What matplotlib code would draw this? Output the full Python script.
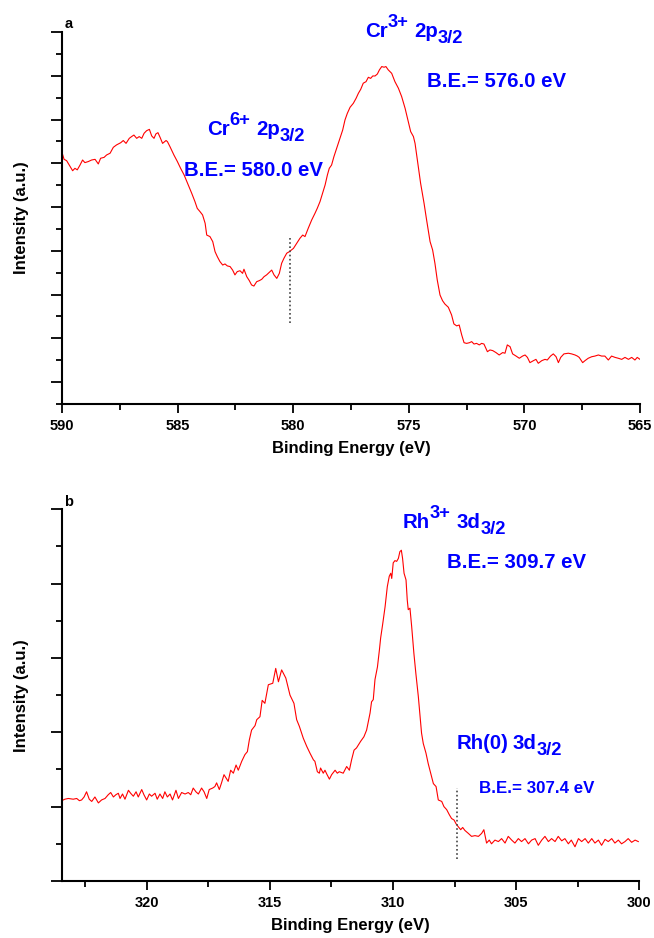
import matplotlib.pyplot as plt
from matplotlib.ticker import MultipleLocator, NullFormatter
from matplotlib.transforms import ScaledTranslation

plt.rcParams['font.family'] = 'Liberation Sans'
plt.rcParams['font.weight'] = 'bold'

# Panel a: Cr 2p spectrum (binding energy, arbitrary intensity)
cr_energy = [590.01, 589.91, 589.80, 589.65, 589.54, 589.44, 589.34, 589.22, 589.11, 589.01,
             588.86, 588.72, 588.57, 588.43, 588.33, 588.18, 588.07, 587.92, 587.78, 587.64,
             587.46, 587.35, 587.23, 587.09, 586.99, 586.89, 586.77, 586.66, 586.55, 586.45,
             586.34, 586.22, 586.12, 586.02, 585.94, 585.85, 585.76, 585.65, 585.50, 585.44,
             585.33, 585.16, 585.01, 584.87, 584.72, 584.54, 584.39, 584.25, 584.15, 584.03,
             583.92, 583.81, 583.74, 583.60, 583.48, 583.38, 583.28, 583.17, 583.05, 582.95,
             582.85, 582.73, 582.62, 582.52, 582.42, 582.30, 582.19, 582.13, 582.01, 581.90,
             581.80, 581.70, 581.58, 581.46, 581.36, 581.26, 581.15, 581.00, 580.93, 580.83,
             580.71, 580.60, 580.50, 580.40, 580.28, 580.17,
             579.99, 579.85, 579.71, 579.59, 579.49, 579.35, 579.20, 579.06, 578.96, 578.84,
             578.73, 578.62, 578.52, 578.44, 578.34, 578.24, 578.12, 578.00, 577.86, 577.76,
             577.66, 577.54, 577.40, 577.28, 577.18, 577.08, 576.97, 576.85, 576.75, 576.65,
             576.56, 576.46, 576.36, 576.27, 576.17, 576.07, 575.99, 575.89, 575.74, 575.60,
             575.45, 575.31, 575.16, 575.02, 574.92, 574.80, 574.73, 574.63, 574.49, 574.34,
             574.23, 574.08, 573.97, 573.87, 573.77, 573.65, 573.54, 573.44, 573.29, 573.15,
             573.05, 572.93, 572.82, 572.71, 572.61, 572.50, 572.38, 572.28, 572.18, 572.07,
             571.95, 571.85, 571.75, 571.60, 571.49, 571.37, 571.23, 571.09, 570.94, 570.84,
             570.74, 570.62, 570.51, 570.36, 570.22, 570.08, 569.97, 569.87, 569.76, 569.61,
             569.50, 569.40, 569.25, 569.11, 569.01, 568.87, 568.75, 568.63, 568.53, 568.43,
             568.29, 568.10, 567.96, 567.81, 567.71, 567.63, 567.48, 567.38, 567.24, 567.09,
             566.95, 566.80, 566.66, 566.52, 566.37, 566.23, 566.08, 565.94, 565.79, 565.65,
             565.50, 565.36, 565.22, 565.12, 565.00]
cr_intensity = [11.53, 11.18, 11.12, 10.85, 10.66, 10.77, 10.70, 10.92, 11.15, 11.03,
                11.08, 11.15, 11.18, 10.97, 11.23, 11.27, 11.38, 11.46, 11.73, 11.84,
                11.94, 12.04, 11.91, 12.14, 12.22, 12.29, 12.14, 12.22, 12.14, 12.37,
                12.49, 12.55, 12.25, 12.14, 12.34, 12.40, 12.19, 11.91, 12.04, 11.99,
                11.76, 11.38, 11.08, 10.77, 10.47, 10.01, 9.63, 9.25, 8.94, 8.79,
                8.64, 8.26, 7.72, 7.65, 7.42, 6.96, 6.73, 6.51, 6.35, 6.40,
                6.31, 6.28, 6.12, 5.90, 6.05, 6.09, 5.97, 6.16, 5.82, 5.64,
                5.44, 5.39, 5.59, 5.64, 5.70, 5.82, 5.90, 6.05, 6.12, 5.90,
                5.74, 5.97, 6.43, 6.66, 6.89, 6.96,
                7.11, 7.34, 7.57, 7.72, 7.65, 8.03, 8.41, 8.71, 8.94, 9.25,
                9.63, 10.01, 10.47, 10.77, 10.92, 11.30, 11.69, 12.07, 12.52, 12.98,
                13.28, 13.56, 13.74, 13.97, 14.20, 14.38, 14.66, 14.73, 14.93, 14.88,
                14.99, 14.99, 15.08, 15.27, 15.42, 15.39, 15.42, 15.27, 15.11, 14.73,
                14.43, 14.05, 13.51, 12.90, 12.45, 12.22, 11.91, 11.15, 10.09, 9.17,
                8.41, 7.42, 7.04, 6.43, 5.67, 4.98, 4.72, 4.57, 4.42, 4.07,
                3.66, 3.57, 3.61, 3.15, 2.80, 2.77, 2.80, 2.85, 2.74, 2.77,
                2.70, 2.77, 2.74, 2.39, 2.47, 2.44, 2.35, 2.24, 2.35, 2.32,
                2.70, 2.62, 2.29, 2.19, 2.09, 2.19, 2.24, 2.13, 1.89, 1.98,
                2.04, 1.86, 1.98, 2.04, 2.01, 2.19, 2.29, 2.16, 1.89, 2.13,
                2.29, 2.32, 2.29, 2.24, 2.19, 2.13, 1.89, 1.98, 2.09, 2.16,
                2.19, 2.24, 2.19, 2.19, 2.01, 2.19, 2.13, 2.09, 2.04, 2.13,
                2.04, 2.13, 2.01, 2.13, 2.04]

# Panel b: Rh 3d spectrum
rh_energy = [323.45, 323.32, 323.18, 322.98, 322.84, 322.73, 322.64, 322.54, 322.44, 322.33,
             322.23, 322.10, 321.96, 321.83, 321.69, 321.56, 321.46, 321.35, 321.25, 321.15,
             321.08, 320.98, 320.88, 320.74, 320.65, 320.54, 320.43, 320.34, 320.20, 320.11,
             320.00, 319.89, 319.80, 319.66, 319.57, 319.46, 319.35, 319.26, 319.16, 319.05,
             318.95, 318.81, 318.71, 318.58, 318.44, 318.31, 318.21, 318.11, 318.00, 317.90,
             317.77, 317.67, 317.56, 317.46, 317.32, 317.23, 317.16, 317.05, 316.96, 316.86,
             316.75, 316.69, 316.59, 316.48, 316.37, 316.28, 316.14, 316.01, 315.91, 315.83,
             315.74, 315.60, 315.53, 315.40, 315.31, 315.20, 315.06, 314.88, 314.76, 314.65,
             314.52, 314.35, 314.18, 314.02, 313.91, 313.80, 313.64, 313.50, 313.37, 313.23,
             313.17, 313.07, 312.99, 312.94, 312.83, 312.76, 312.69, 312.58, 312.49, 312.35,
             312.26, 312.18, 312.02, 311.88, 311.77, 311.68, 311.58, 311.48, 311.31, 311.18,
             311.07, 310.93, 310.87, 310.80, 310.73, 310.63, 310.55, 310.50, 310.42, 310.32,
             310.23, 310.15, 310.09, 310.05, 309.99, 309.92, 309.85, 309.78, 309.72, 309.66,
             309.61, 309.55, 309.47, 309.42, 309.38, 309.31, 309.24, 309.15, 309.07, 308.97,
             308.90, 308.84, 308.77, 308.66, 308.57, 308.47, 308.36, 308.25, 308.16, 308.02,
             307.93, 307.82, 307.71, 307.62, 307.52, 307.44, 307.35, 307.25, 307.17, 307.08,
             306.94, 306.81, 306.67, 306.53, 306.40, 306.31, 306.20, 306.09, 306.00, 305.86,
             305.72, 305.59, 305.45, 305.32, 305.18, 305.05, 304.91, 304.78, 304.64, 304.50,
             304.37, 304.23, 304.10, 303.96, 303.83, 303.69, 303.56, 303.42, 303.29, 303.15,
             303.02, 302.88, 302.76, 302.61, 302.47, 302.34, 302.20, 302.07, 301.93, 301.80,
             301.66, 301.53, 301.39, 301.26, 301.12, 300.99, 300.85, 300.72, 300.58, 300.45,
             300.31, 300.17, 300.04]
rh_intensity = [1.08, 1.10, 1.11, 1.10, 1.11, 1.08, 1.09, 1.13, 1.20, 1.10,
                1.07, 1.13, 1.05, 1.09, 1.11, 1.16, 1.19, 1.13, 1.16, 1.18,
                1.11, 1.17, 1.10, 1.22, 1.18, 1.14, 1.20, 1.13, 1.23, 1.16,
                1.09, 1.17, 1.14, 1.18, 1.10, 1.17, 1.11, 1.20, 1.13, 1.17,
                1.09, 1.22, 1.11, 1.19, 1.17, 1.19, 1.16, 1.25, 1.20, 1.17,
                1.25, 1.20, 1.11, 1.23, 1.25, 1.27, 1.32, 1.23, 1.32, 1.43,
                1.37, 1.34, 1.49, 1.45, 1.56, 1.49, 1.61, 1.70, 1.74, 1.90,
                2.03, 2.09, 2.17, 2.21, 2.43, 2.39, 2.64, 2.66, 2.86, 2.68,
                2.84, 2.73, 2.50, 2.39, 2.17, 2.08, 1.92, 1.81, 1.72, 1.63,
                1.61, 1.47, 1.45, 1.52, 1.45, 1.49, 1.44, 1.37, 1.43, 1.49,
                1.45, 1.47, 1.45, 1.54, 1.49, 1.63, 1.76, 1.79, 1.88, 1.94,
                2.03, 2.26, 2.41, 2.44, 2.71, 2.88, 3.11, 3.27, 3.45, 3.69,
                3.96, 4.10, 4.14, 4.07, 4.28, 4.31, 4.30, 4.34, 4.43, 4.45,
                4.34, 4.14, 4.05, 3.78, 3.65, 3.67, 3.42, 3.06, 2.79, 2.48,
                2.21, 1.99, 1.85, 1.72, 1.58, 1.45, 1.31, 1.27, 1.09, 1.07,
                1.00, 0.96, 0.89, 0.84, 0.82, 0.77, 0.73, 0.69, 0.72, 0.68,
                0.64, 0.60, 0.61, 0.60, 0.64, 0.69, 0.51, 0.55, 0.50, 0.55,
                0.53, 0.57, 0.51, 0.60, 0.55, 0.51, 0.57, 0.53, 0.57, 0.50,
                0.55, 0.57, 0.48, 0.55, 0.60, 0.53, 0.57, 0.53, 0.60, 0.54,
                0.57, 0.50, 0.55, 0.46, 0.57, 0.53, 0.57, 0.51, 0.57, 0.51,
                0.55, 0.48, 0.56, 0.53, 0.57, 0.51, 0.55, 0.50, 0.53, 0.57,
                0.52, 0.55, 0.53]

fig = plt.figure(figsize=(6.54, 9.38), dpi=100)
ax_a = fig.add_axes([0.0948, 0.5693, 0.8838, 0.3966])
ax_b = fig.add_axes([0.0943, 0.0608, 0.8832, 0.3962])
renderer = fig.canvas.get_renderer()

blue = '#0000ff'
FS = 14.7


def style_axes(ax, ymajor, yminor):
    for s in ['top', 'right']:
        ax.spines[s].set_visible(False)
    for s in ['left', 'bottom']:
        ax.spines[s].set_linewidth(1.5)
    ax.yaxis.set_major_locator(MultipleLocator(ymajor))
    ax.yaxis.set_minor_locator(MultipleLocator(yminor))
    ax.yaxis.set_major_formatter(NullFormatter())
    ax.xaxis.set_major_locator(MultipleLocator(5))
    ax.xaxis.set_minor_locator(MultipleLocator(2.5))
    ax.tick_params(which='both', direction='out', width=1.3)
    ax.tick_params(axis='y', which='major', length=8)
    ax.tick_params(axis='y', which='minor', length=4)
    ax.tick_params(axis='x', which='major', length=6.5, labelsize=10.5, pad=4)
    ax.tick_params(axis='x', which='minor', length=4)
    ax.set_xlabel('Binding Energy (eV)', fontsize=12, fontweight='bold', labelpad=6)
    ax.set_ylabel('Intensity (a.u.)', fontsize=12, fontweight='bold', labelpad=12)


def species_label(ax, x, y, base, sup, orbital, sub, gap=0.28):
    # base + superscript, gap, orbital + subscript, drawn piece by piece
    pieces = [(base, 1.0, 0.0), (sup, 0.9, 0.48), (None, gap, 0.0),
              (orbital, 1.0, 0.0), (sub, 0.9, -0.28)]
    dx = 0.0
    for s, scale, rise in pieces:
        if s is None:
            dx += scale * FS / 72
            continue
        if not s:
            continue
        off = ScaledTranslation(dx, rise * FS / 72, fig.dpi_scale_trans)
        t = ax.text(x, y, s, color=blue, fontsize=FS * scale, fontweight='bold',
                    ha='left', va='baseline', transform=ax.transData + off)
        dx += t.get_window_extent(renderer).width / fig.dpi


# panel a
ax_a.plot(cr_energy, cr_intensity, color='red', lw=0.8)
ax_a.vlines(580.15, 3.7, 7.6, colors='#444444', linestyles=(0, (1, 1.5)), lw=1.2)
ax_a.set_xlim(590, 565)
ax_a.set_ylim(0, 17)
style_axes(ax_a, 2, 1)
ax_a.yaxis.set_major_locator(MultipleLocator(2, offset=1))
ax_a.text(0.005, 1.01, 'a', transform=ax_a.transAxes, fontsize=10.5, fontweight='bold')
species_label(ax_a, 583.74, 12.29, 'Cr', '6+', '2p', '3/2')
ax_a.text(581.72, 10.69, 'B.E.= 580.0 eV', color=blue, fontsize=FS, ha='center', va='center')
species_label(ax_a, 576.89, 16.77, 'Cr', '3+', '2p', '3/2')
ax_a.text(571.21, 14.76, 'B.E.= 576.0 eV', color=blue, fontsize=FS, ha='center', va='center')

# panel b
ax_b.plot(rh_energy, rh_intensity, color='red', lw=0.8)
ax_b.vlines(307.41, 0.3, 1.25, colors='#444444', linestyles=(0, (1, 1.5)), lw=1.2)
ax_b.set_xlim(323.45, 300)
ax_b.set_ylim(0, 5)
style_axes(ax_b, 1, 0.5)
ax_b.text(0.005, 1.01, 'b', transform=ax_b.transAxes, fontsize=10.5, fontweight='bold')
species_label(ax_b, 309.61, 4.75, 'Rh', '3+', '3d', '3/2')
ax_b.text(304.99, 4.287, 'B.E.= 309.7 eV', color=blue, fontsize=FS, ha='center', va='center')
species_label(ax_b, 307.41, 1.777, 'Rh(0)', '', '3d', '3/2', gap=0.2)
ax_b.text(304.17, 1.238, 'B.E.= 307.4 eV', color=blue, fontsize=12.2, ha='center', va='center')

plt.savefig('out.png', dpi=100)
